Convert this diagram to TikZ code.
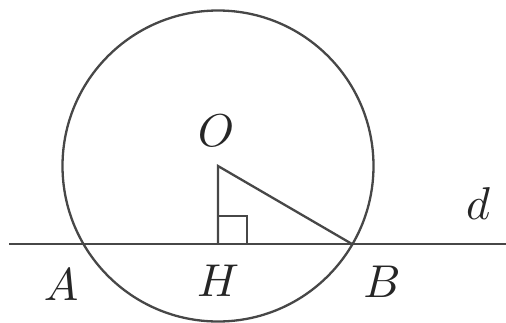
\documentclass[tikz,border=0pt]{standalone}
\usepackage{graphicx}
\newcommand{\biglbl}[1]{\scalebox{4.6}{$#1$}}
\tikzset{
  geo/.style={draw=black!72, line width=2.3pt},
  lbl/.style={inner sep=0pt, text=black!85},
}
\begin{document}
\begin{tikzpicture}[x=1pt,y=-1pt]
\useasboundingbox (0,0) rectangle (506,322);
\coordinate (O) at (218,166);
\coordinate (H) at (218,244);
\coordinate (B) at (352,244);
\coordinate (A) at (84,244);
\coordinate (L) at (9,244);
\coordinate (R) at (506,244);
\draw[geo] (O) circle (155.5);
\draw[geo] (L) -- (R);
\draw[geo] (H) -- (O) -- (B);
\draw[geo] (H) ++(0,-28) -- ++(29,0) -- ++(0,28);
\node[lbl] (lO) at (216,131) {\biglbl{O}};
\node[lbl] (ld) at (478,204) {\biglbl{d}};
\node[lbl] (lA) at (61,285) {\biglbl{A}};
\node[lbl] (lH) at (218,281) {\biglbl{H}};
\node[lbl] (lB) at (382,282) {\biglbl{B}};
\end{tikzpicture}
\end{document}
